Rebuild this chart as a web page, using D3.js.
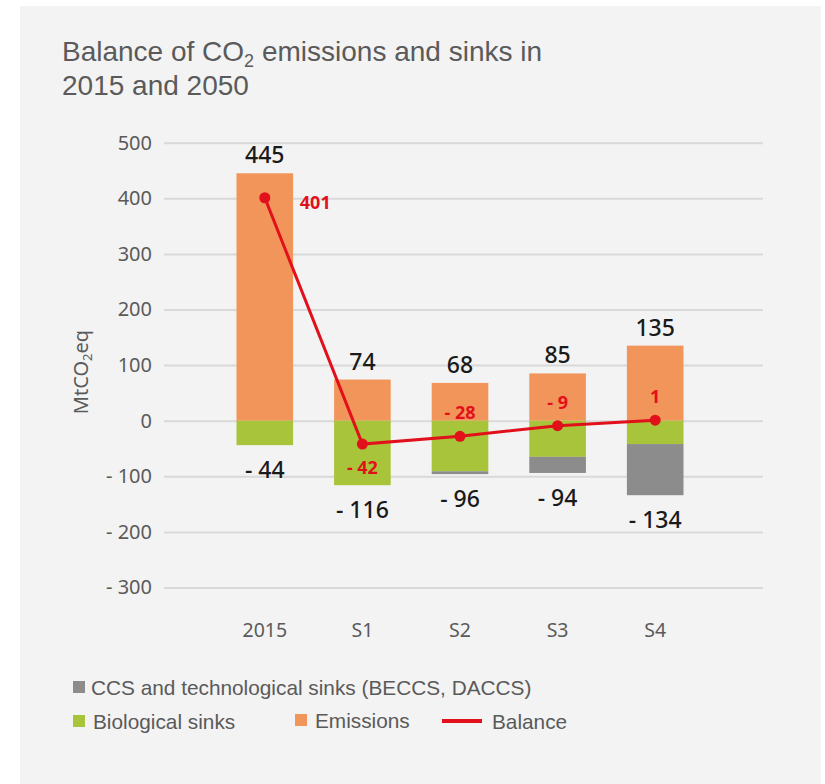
<!DOCTYPE html>
<html>
<head>
<meta charset="utf-8">
<script src="https://cdn.jsdelivr.net/npm/d3@7/dist/d3.min.js"></script>
<style>
  html, body { margin: 0; padding: 0; background: #ffffff; }
  svg { display: block; }
</style>
</head>
<body>
<script>
// Categories and series (MtCO2eq)
const categories = ["2015", "S1", "S2", "S3", "S4"];
const emissions = [445, 74, 68, 85, 135];
const biologicalSinks = [-44, -116, -91, -65, -42];
const techSinks = [0, 0, -5, -29, -92];
const totalSinks = [-44, -116, -96, -94, -134];
const balance = [401, -42, -28, -9, 1];
const yTicks = [-300, -200, -100, 0, 100, 200, 300, 400, 500];
// Where each balance label sits relative to its point
const balanceLabelSide = ["right", "below", "above", "above", "above"];

const W = 825, H = 784;
const colors = {
  tech: "#8c8c8c",
  bio: "#a8c43a",
  emis: "#f2955a",
  balance: "#e2101b",
  grid: "#d9d9d9",
  text: "#5a5a5a",
  value: "#1a1a1a"
};

const svg = d3.select("body").append("svg")
  .attr("width", W).attr("height", H);

// Panel
svg.append("rect").attr("x", 20).attr("y", 6).attr("width", 801).attr("height", H - 6)
  .attr("fill", "#f3f3f3");

// Title
const sansFont = "'Liberation Sans', Arial, sans-serif";
const title = svg.append("text")
  .attr("x", 62).attr("y", 61)
  .attr("font-family", sansFont)
  .attr("font-size", 28).attr("fill", colors.text);
title.append("tspan").text("Balance of CO");
title.append("tspan").attr("font-size", 18).attr("dy", 6).text("2");
title.append("tspan").attr("dy", -6).text(" emissions and sinks in");
svg.append("text")
  .attr("x", 62).attr("y", 95)
  .attr("font-family", sansFont)
  .attr("font-size", 28).attr("fill", colors.text)
  .text("2015 and 2050");

const y = d3.scaleLinear().domain([-300, 500]).range([587.5, 142.7]);
const x = d3.scaleBand().domain(categories).range([216, 704])
  .paddingInner(0.42).paddingOuter(0.21);
const cx = c => x(c) + x.bandwidth() / 2;

const fmt = v => v < 0 ? "- " + (-v) : String(v);
const numFont = "'Noto Sans', 'Open Sans', sans-serif";

// Y axis with gridlines
const yAxis = d3.axisLeft(y).tickValues(yTicks).tickFormat(fmt)
  .tickSize(-(763 - 164)).tickPadding(12);
const gy = svg.append("g").attr("transform", "translate(164,0)").call(yAxis);
gy.select(".domain").remove();
gy.selectAll(".tick line").attr("stroke", colors.grid).attr("stroke-width", 2);
gy.selectAll(".tick text")
  .attr("font-family", numFont).attr("font-size", 20).attr("fill", colors.text);

// Y axis title
const yt = svg.append("text")
  .attr("transform", "translate(88,372) rotate(-90)")
  .attr("text-anchor", "middle")
  .attr("font-family", numFont).attr("font-size", 20).attr("fill", colors.text);
yt.append("tspan").text("MtCO");
yt.append("tspan").attr("font-size", 13).attr("dy", 4).text("2");
yt.append("tspan").attr("dy", -4).text("eq");

// X axis labels
const xAxis = d3.axisBottom(x).tickSize(0).tickPadding(0);
const gx = svg.append("g").attr("transform", "translate(0,623)").call(xAxis);
gx.select(".domain").remove();
gx.selectAll(".tick text")
  .attr("font-family", numFont).attr("font-size", 19.5).attr("fill", colors.text);

// Bars
const bars = svg.append("g");
categories.forEach((c, i) => {
  bars.append("rect")
    .attr("x", x(c)).attr("width", x.bandwidth())
    .attr("y", y(emissions[i])).attr("height", y(0) - y(emissions[i]))
    .attr("fill", colors.emis);
  bars.append("rect")
    .attr("x", x(c)).attr("width", x.bandwidth())
    .attr("y", y(0)).attr("height", y(biologicalSinks[i]) - y(0))
    .attr("fill", colors.bio);
  if (techSinks[i] < 0) {
    const top = biologicalSinks[i], bottom = biologicalSinks[i] + techSinks[i];
    bars.append("rect")
      .attr("x", x(c)).attr("width", x.bandwidth())
      .attr("y", y(top)).attr("height", y(bottom) - y(top))
      .attr("fill", colors.tech);
  }
});

// Totals above and below each bar
const labels = svg.append("g")
  .attr("font-family", numFont).attr("font-size", 23).attr("font-weight", 500)
  .attr("fill", colors.value).attr("text-anchor", "middle");
categories.forEach((c, i) => {
  labels.append("text").attr("x", cx(c)).attr("y", y(emissions[i]) - 10)
    .text(fmt(emissions[i]));
  const bottom = biologicalSinks[i] + techSinks[i];
  labels.append("text").attr("x", cx(c)).attr("y", y(bottom) + 33)
    .text(fmt(totalSinks[i]));
});

// Balance line
const line = d3.line().x((d, i) => cx(categories[i])).y(d => y(d));
svg.append("path").datum(balance)
  .attr("d", line).attr("fill", "none")
  .attr("stroke", colors.balance).attr("stroke-width", 3);
svg.append("g").selectAll("circle").data(balance).join("circle")
  .attr("cx", (d, i) => cx(categories[i])).attr("cy", d => y(d)).attr("r", 5.5)
  .attr("fill", colors.balance);

const bl = svg.append("g")
  .attr("font-family", numFont).attr("font-size", 18).attr("font-weight", "bold")
  .attr("fill", colors.balance);
balance.forEach((v, i) => {
  const px = cx(categories[i]), py = y(v);
  const side = balanceLabelSide[i];
  const t = bl.append("text").text(fmt(v)).attr("dominant-baseline", "central");
  if (side === "right") t.attr("x", px + 35).attr("y", py + 4);
  else if (side === "below") t.attr("x", px).attr("y", py + 23).attr("text-anchor", "middle");
  else t.attr("x", px).attr("y", py - 24).attr("text-anchor", "middle");
});

// Legend
const lg = svg.append("g")
  .attr("font-family", sansFont)
  .attr("font-size", 20.8).attr("fill", colors.text);
function legendSwatch(xPos, yMid, color, label, textX) {
  lg.append("rect").attr("x", xPos).attr("y", yMid - 6).attr("width", 12).attr("height", 12)
    .attr("fill", color);
  lg.append("text").attr("x", textX).attr("y", yMid).attr("dominant-baseline", "central")
    .text(label);
}
legendSwatch(73, 687, colors.tech, "CCS and technological sinks (BECCS, DACCS)", 91);
legendSwatch(73, 721, colors.bio, "Biological sinks", 93);
legendSwatch(295, 720, colors.emis, "Emissions", 315);
lg.append("line").attr("x1", 442).attr("x2", 482).attr("y1", 721).attr("y2", 721)
  .attr("stroke", colors.balance).attr("stroke-width", 4);
lg.append("text").attr("x", 492).attr("y", 721).attr("dominant-baseline", "central")
  .text("Balance");
</script>
</body>
</html>
